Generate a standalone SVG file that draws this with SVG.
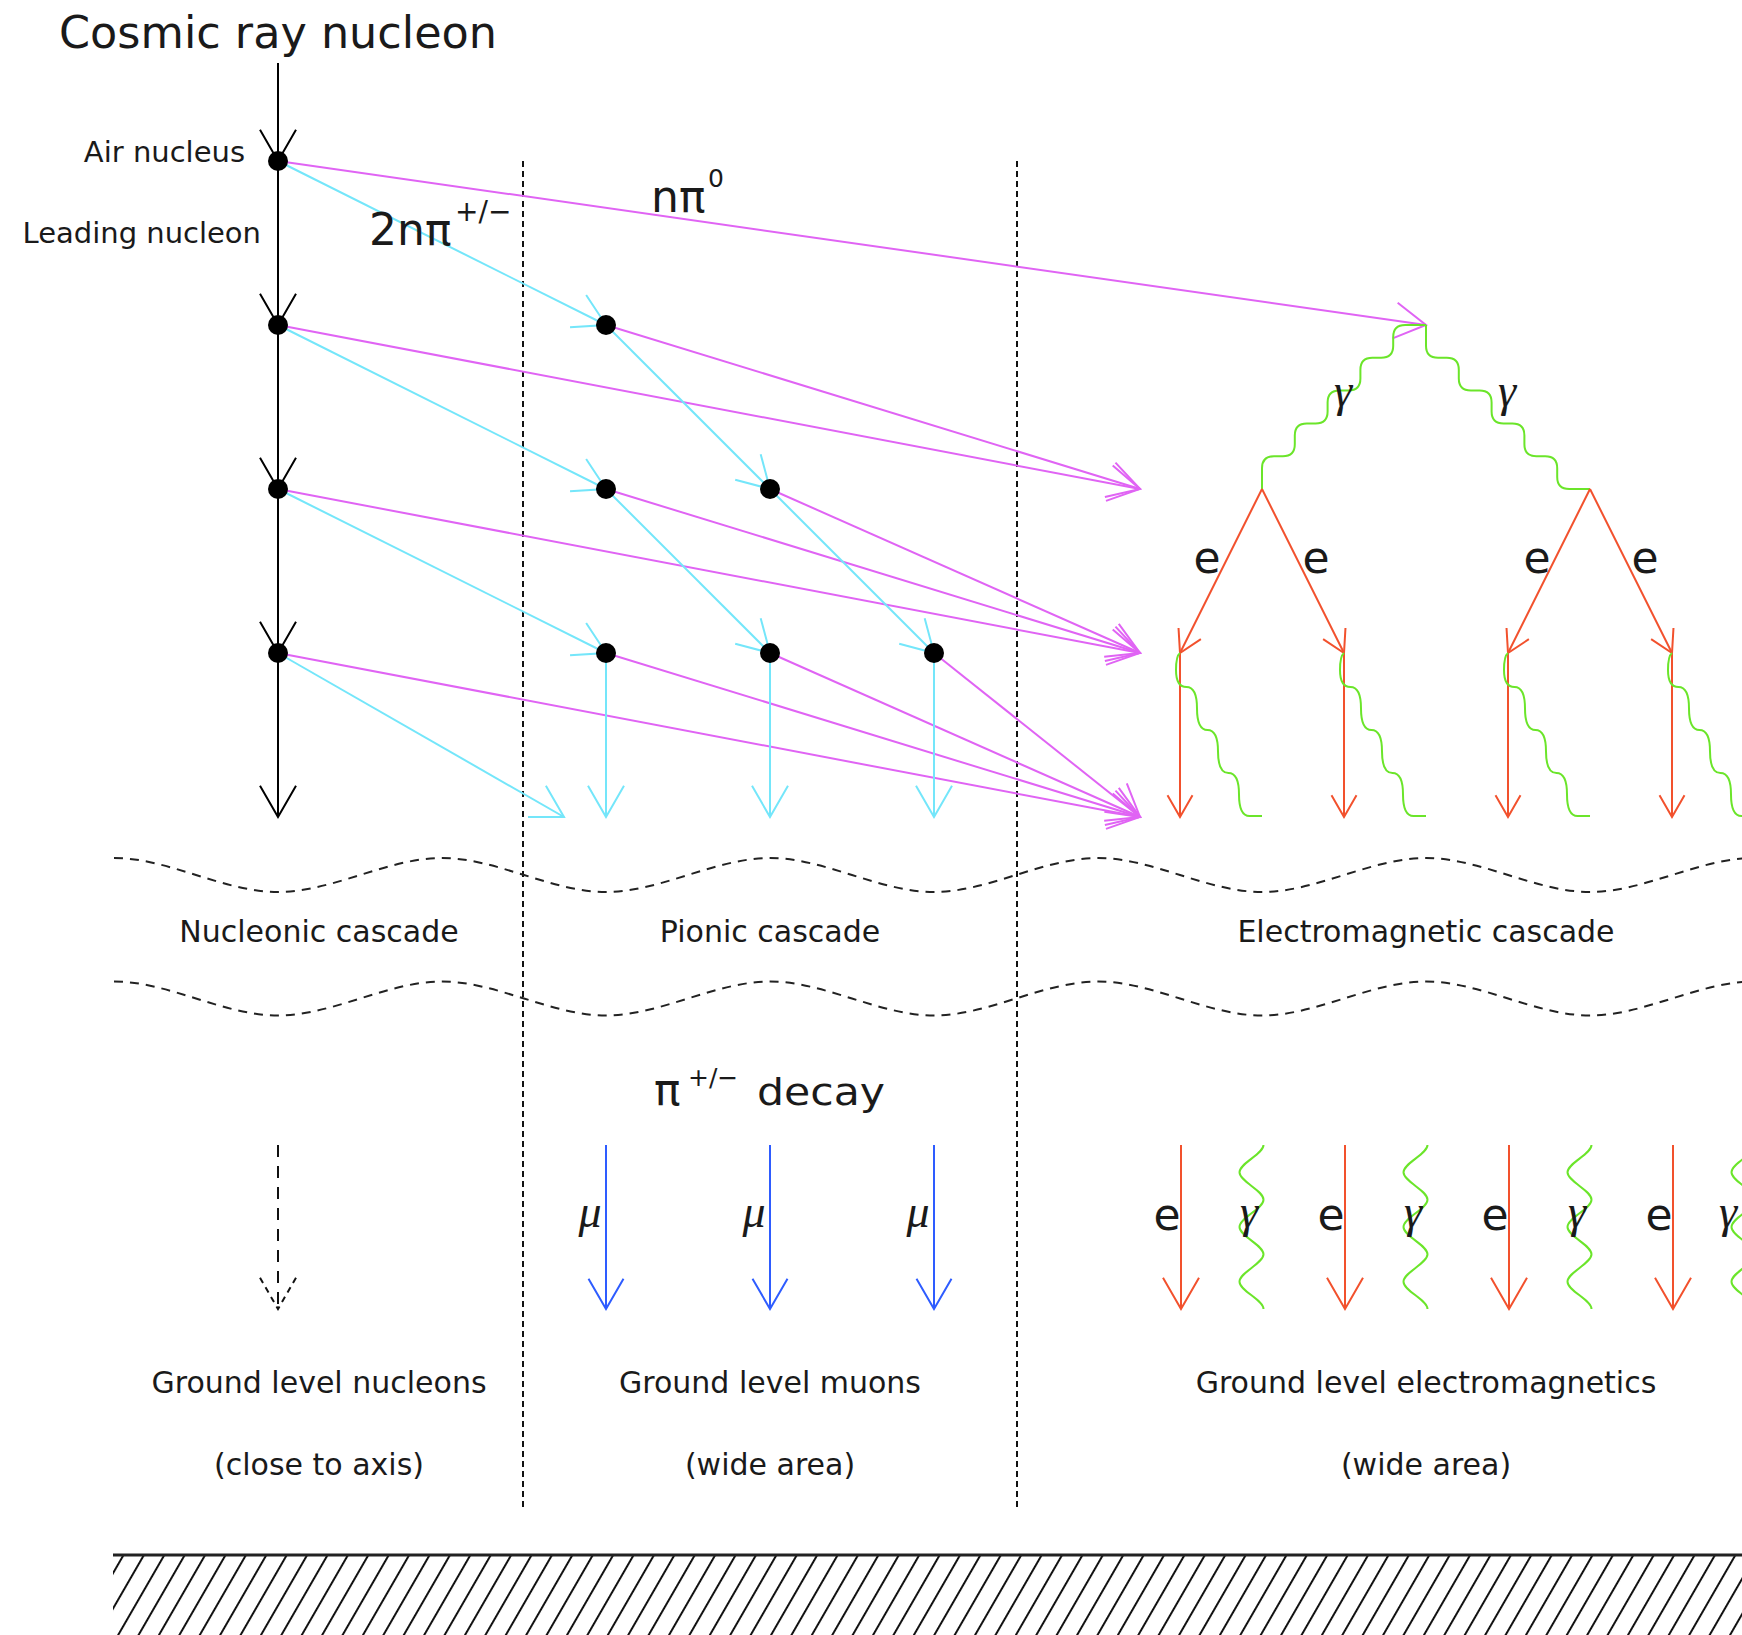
<svg xmlns="http://www.w3.org/2000/svg" width="1742" height="1635" viewBox="0 0 1742 1635">
<defs>
<style>
.t{font-family:"DejaVu Sans",sans-serif;fill:#1a1a1a}
.s{font-family:"Liberation Serif",serif;font-style:italic;fill:#1a1a1a}
.k{stroke:#000;stroke-width:2;fill:none;marker-end:url(#aK)}
.kd{stroke:#111;stroke-width:2;fill:none;stroke-dasharray:12 9;marker-end:url(#aKd)}
.c{stroke:#74e6fa;stroke-width:2;fill:none;marker-end:url(#aC)}
.p{stroke:#e064f4;stroke-width:2;fill:none;marker-end:url(#aP)}
.r{stroke:#f2512d;stroke-width:2;fill:none;marker-end:url(#aRs)}
.R{stroke:#f2512d;stroke-width:2;fill:none;marker-end:url(#aR)}
.b{stroke:#2e5cff;stroke-width:2;fill:none;marker-end:url(#aB)}
.g{stroke:#6be52a;stroke-width:2;fill:none}
.dv{stroke:#111;stroke-width:2;fill:none;stroke-dasharray:6 4}
.wv{stroke:#222;stroke-width:2;fill:none;stroke-dasharray:9 7}
.dot{fill:#000}
</style>
<marker id="aK" viewBox="-40 -20 42 40" refX="0" refY="0" markerWidth="42" markerHeight="40" markerUnits="userSpaceOnUse" orient="auto"><path d="M-31.2,-18L0,0L-31.2,18" fill="none" stroke="#000" stroke-width="2"/></marker>
<marker id="aKd" viewBox="-40 -20 42 40" refX="0" refY="0" markerWidth="42" markerHeight="40" markerUnits="userSpaceOnUse" orient="auto"><path d="M-31.2,-18L0,0L-31.2,18" fill="none" stroke="#111" stroke-width="2" stroke-dasharray="6 5"/></marker>
<marker id="aC" viewBox="-40 -20 42 40" refX="0" refY="0" markerWidth="42" markerHeight="40" markerUnits="userSpaceOnUse" orient="auto"><path d="M-31.2,-18L0,0L-31.2,18" fill="none" stroke="#74e6fa" stroke-width="2"/></marker>
<marker id="aP" viewBox="-40 -20 42 40" refX="0" refY="0" markerWidth="42" markerHeight="40" markerUnits="userSpaceOnUse" orient="auto"><path d="M-31.2,-18L0,0L-31.2,18" fill="none" stroke="#e064f4" stroke-width="2"/></marker>
<marker id="aR" viewBox="-40 -20 42 40" refX="0" refY="0" markerWidth="42" markerHeight="40" markerUnits="userSpaceOnUse" orient="auto"><path d="M-31.2,-18L0,0L-31.2,18" fill="none" stroke="#f2512d" stroke-width="2"/></marker>
<marker id="aRs" viewBox="-40 -20 42 40" refX="0" refY="0" markerWidth="42" markerHeight="40" markerUnits="userSpaceOnUse" orient="auto"><path d="M-21.7,-12.5L0,0L-21.7,12.5" fill="none" stroke="#f2512d" stroke-width="2"/></marker>
<marker id="aB" viewBox="-40 -20 42 40" refX="0" refY="0" markerWidth="42" markerHeight="40" markerUnits="userSpaceOnUse" orient="auto"><path d="M-30.3,-17.5L0,0L-30.3,17.5" fill="none" stroke="#2e5cff" stroke-width="2"/></marker>
<pattern id="hatch" patternUnits="userSpaceOnUse" width="17.67" height="20" patternTransform="rotate(30)"><line x1="1" y1="-5" x2="1" y2="25" stroke="#111" stroke-width="2"/></pattern>
</defs>
<rect width="1742" height="1635" fill="#fff"/>

<g id="separators">
<line class="dv" x1="523" y1="161" x2="523" y2="1511"/>
<line class="dv" x1="1017" y1="161" x2="1017" y2="1511"/>
<path class="wv" d="M114,858 c54.67,0 109.33,34 164,34 s109.33,-34 164,-34 s109.33,34 164,34 s109.33,-34 164,-34 s109.33,34 164,34 s109.33,-34 164,-34 s109.33,34 164,34 s109.33,-34 164,-34 s109.33,34 164,34 s109.33,-34 164,-34"/>
<path class="wv" d="M114,981.5 c54.67,0 109.33,34 164,34 s109.33,-34 164,-34 s109.33,34 164,34 s109.33,-34 164,-34 s109.33,34 164,34 s109.33,-34 164,-34 s109.33,34 164,34 s109.33,-34 164,-34 s109.33,34 164,34 s109.33,-34 164,-34"/>
</g>

<g id="connectors">
<line class="k" x1="278" y1="63" x2="278" y2="161"/>
<line class="k" x1="278" y1="161" x2="278" y2="325"/>
<line class="k" x1="278" y1="325" x2="278" y2="489"/>
<line class="k" x1="278" y1="489" x2="278" y2="653"/>
<line class="k" x1="278" y1="653" x2="278" y2="817"/>

<line class="p" x1="278" y1="161" x2="1426" y2="325"/>
<line class="p" x1="278" y1="325" x2="1140" y2="489"/>
<line class="p" x1="606" y1="325" x2="1140" y2="489"/>
<line class="p" x1="278" y1="489" x2="1140" y2="653"/>
<line class="p" x1="606" y1="489" x2="1140" y2="653"/>
<line class="p" x1="770" y1="489" x2="1140" y2="653"/>
<line class="p" x1="278" y1="653" x2="1140" y2="817"/>
<line class="p" x1="606" y1="653" x2="1140" y2="817"/>
<line class="p" x1="770" y1="653" x2="1140" y2="817"/>
<line class="p" x1="934" y1="653" x2="1140" y2="817"/>

<line class="c" x1="278" y1="161" x2="606" y2="325"/>
<line class="c" x1="278" y1="325" x2="606" y2="489"/>
<line class="c" x1="278" y1="489" x2="606" y2="653"/>
<line class="c" x1="278" y1="653" x2="564" y2="817"/>
<line class="c" x1="606" y1="325" x2="770" y2="489"/>
<line class="c" x1="606" y1="489" x2="770" y2="653"/>
<line class="c" x1="770" y1="489" x2="934" y2="653"/>
<line class="c" x1="606" y1="653" x2="606" y2="817"/>
<line class="c" x1="770" y1="653" x2="770" y2="817"/>
<line class="c" x1="934" y1="653" x2="934" y2="817"/>

<path class="g" d="M1426,325 h-20.8 q-12,0 -12,12 v8.8 q0,12 -12,12 h-8.8 q-12,0 -12,12 v8.8 q0,12 -12,12 h-8.8 q-12,0 -12,12 v8.8 q0,12 -12,12 h-8.8 q-12,0 -12,12 v8.8 q0,12 -12,12 h-8.8 q-12,0 -12,12 v20.8"/>
<path class="g" d="M1426,325 v20.8 q0,12 12,12 h8.8 q12,0 12,12 v8.8 q0,12 12,12 h8.8 q12,0 12,12 v8.8 q0,12 12,12 h8.8 q12,0 12,12 v8.8 q0,12 12,12 h8.8 q12,0 12,12 v8.8 q0,12 12,12 h20.8"/>

<line class="r" x1="1262" y1="489" x2="1180" y2="653"/>
<line class="r" x1="1262" y1="489" x2="1344" y2="653"/>
<line class="r" x1="1590" y1="489" x2="1508" y2="653"/>
<line class="r" x1="1590" y1="489" x2="1672" y2="653"/>
<line class="r" x1="1180" y1="653" x2="1180" y2="817"/>
<line class="r" x1="1344" y1="653" x2="1344" y2="817"/>
<line class="r" x1="1508" y1="653" x2="1508" y2="817"/>
<line class="r" x1="1672" y1="653" x2="1672" y2="817"/>

<path class="g" d="M1180,653 Q1176,656 1176,670 Q1176,687 1186.5,687 T1197,708.5 T1207.5,730 T1218,751.5 T1228.5,773 T1239,794.5 T1249.5,816 L1262,816"/>
<path class="g" d="M1344,653 Q1340,656 1340,670 Q1340,687 1350.5,687 T1361,708.5 T1371.5,730 T1382,751.5 T1392.5,773 T1403,794.5 T1413.5,816 L1426,816"/>
<path class="g" d="M1508,653 Q1504,656 1504,670 Q1504,687 1514.5,687 T1525,708.5 T1535.5,730 T1546,751.5 T1556.5,773 T1567,794.5 T1577.5,816 L1590,816"/>
<path class="g" d="M1672,653 Q1668,656 1668,670 Q1668,687 1678.5,687 T1689,708.5 T1699.5,730 T1710,751.5 T1720.5,773 T1731,794.5 T1741.5,816 L1754,816"/>

<line class="kd" x1="278" y1="1145" x2="278" y2="1309"/>
<line class="b" x1="606" y1="1145" x2="606" y2="1309"/>
<line class="b" x1="770" y1="1145" x2="770" y2="1309"/>
<line class="b" x1="934" y1="1145" x2="934" y2="1309"/>

<line class="R" x1="1181" y1="1145" x2="1181" y2="1309"/>
<line class="R" x1="1345" y1="1145" x2="1345" y2="1309"/>
<line class="R" x1="1509" y1="1145" x2="1509" y2="1309"/>
<line class="R" x1="1673" y1="1145" x2="1673" y2="1309"/>
<path class="g" d="M1263.5,1145 c0,9.11 -24,18.22 -24,27.33 s24,18.22 24,27.33 s-24,18.22 -24,27.33 s24,18.22 24,27.33 s-24,18.22 -24,27.33 s24,18.22 24,27.33"/>
<path class="g" d="M1427.5,1145 c0,9.11 -24,18.22 -24,27.33 s24,18.22 24,27.33 s-24,18.22 -24,27.33 s24,18.22 24,27.33 s-24,18.22 -24,27.33 s24,18.22 24,27.33"/>
<path class="g" d="M1591.5,1145 c0,9.11 -24,18.22 -24,27.33 s24,18.22 24,27.33 s-24,18.22 -24,27.33 s24,18.22 24,27.33 s-24,18.22 -24,27.33 s24,18.22 24,27.33"/>
<path class="g" d="M1755.5,1145 c0,9.11 -24,18.22 -24,27.33 s24,18.22 24,27.33 s-24,18.22 -24,27.33 s24,18.22 24,27.33 s-24,18.22 -24,27.33 s24,18.22 24,27.33"/>
</g>

<g id="vertices">
<circle id="v-air" class="dot" cx="278" cy="161" r="10"/>
<circle id="v-a2" class="dot" cx="278" cy="325" r="10"/>
<circle id="v-a3" class="dot" cx="278" cy="489" r="10"/>
<circle id="v-a4" class="dot" cx="278" cy="653" r="10"/>
<circle id="v-p1" class="dot" cx="606" cy="325" r="10"/>
<circle id="v-p2" class="dot" cx="606" cy="489" r="10"/>
<circle id="v-p3" class="dot" cx="770" cy="489" r="10"/>
<circle id="v-p4" class="dot" cx="606" cy="653" r="10"/>
<circle id="v-p5" class="dot" cx="770" cy="653" r="10"/>
<circle id="v-p6" class="dot" cx="934" cy="653" r="10"/>
</g>

<g id="labels">
<text id="title" class="t" x="278" y="48" font-size="44.5" text-anchor="middle">Cosmic ray nucleon</text>
<text id="air" class="t" x="245" y="162" font-size="29" text-anchor="end">Air nucleus</text>
<text id="leading" class="t" x="261" y="243" font-size="29" text-anchor="end">Leading nucleon</text>
<text id="pipm" class="t" x="369" y="245" font-size="44">2nπ</text>
<text class="t" x="455" y="221" font-size="28">+/−</text>
<text id="pi0" class="t" x="651" y="212" font-size="44">nπ</text>
<text class="t" x="708" y="187" font-size="25">0</text>
<text class="s" x="1343" y="406" font-size="46" text-anchor="middle">γ</text>
<text class="s" x="1507" y="406" font-size="46" text-anchor="middle">γ</text>
<text class="t" x="1207" y="573" font-size="44" text-anchor="middle">e</text>
<text class="t" x="1316" y="573" font-size="44" text-anchor="middle">e</text>
<text class="t" x="1537" y="573" font-size="44" text-anchor="middle">e</text>
<text class="t" x="1645" y="573" font-size="44" text-anchor="middle">e</text>
<text id="nuc-cascade" class="t" x="319" y="942" font-size="30" text-anchor="middle">Nucleonic cascade</text>
<text id="pion-cascade" class="t" x="770" y="942" font-size="30" text-anchor="middle">Pionic cascade</text>
<text id="em-cascade" class="t" x="1426" y="942" font-size="30" text-anchor="middle">Electromagnetic cascade</text>
<text id="decay-pi" class="t" x="654" y="1105" font-size="44">π</text>
<text class="t" x="688" y="1086" font-size="25">+/−</text>
<text class="t" x="757" y="1105" font-size="38" textLength="128" lengthAdjust="spacingAndGlyphs">decay</text>
<text class="s" x="590" y="1227" font-size="46" text-anchor="middle">μ</text>
<text class="s" x="754" y="1227" font-size="46" text-anchor="middle">μ</text>
<text class="s" x="918" y="1227" font-size="46" text-anchor="middle">μ</text>
<text class="t" x="1167" y="1230" font-size="44" text-anchor="middle">e</text>
<text class="t" x="1331" y="1230" font-size="44" text-anchor="middle">e</text>
<text class="t" x="1495" y="1230" font-size="44" text-anchor="middle">e</text>
<text class="t" x="1659" y="1230" font-size="44" text-anchor="middle">e</text>
<text class="s" x="1249" y="1227" font-size="46" text-anchor="middle">γ</text>
<text class="s" x="1413" y="1227" font-size="46" text-anchor="middle">γ</text>
<text class="s" x="1577" y="1227" font-size="46" text-anchor="middle">γ</text>
<text class="s" x="1728" y="1227" font-size="46" text-anchor="middle">γ</text>
<text id="gl-nucleons" class="t" x="319" y="1393" font-size="30" text-anchor="middle">Ground level nucleons</text>
<text class="t" x="319" y="1475" font-size="30" text-anchor="middle">(close to axis)</text>
<text id="gl-muons" class="t" x="770" y="1393" font-size="30" text-anchor="middle">Ground level muons</text>
<text class="t" x="770" y="1475" font-size="30" text-anchor="middle">(wide area)</text>
<text id="gl-em" class="t" x="1426" y="1393" font-size="30" text-anchor="middle">Ground level electromagnetics</text>
<text class="t" x="1426" y="1475" font-size="30" text-anchor="middle">(wide area)</text>
</g>

<g id="ground">
<rect x="113" y="1556" width="1629" height="79" fill="url(#hatch)"/>
<line x1="113" y1="1555" x2="1742" y2="1555" stroke="#222" stroke-width="3"/>
</g>
</svg>
